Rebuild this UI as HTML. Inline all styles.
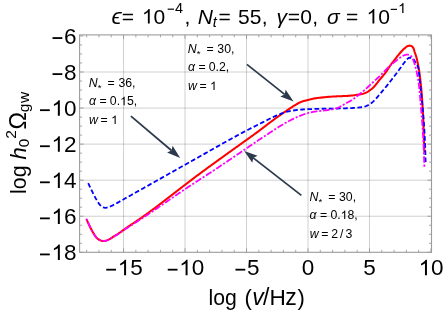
<!DOCTYPE html>
<html><head><meta charset="utf-8"><title>plot</title>
<style>
html,body{margin:0;padding:0;background:#fff;}
svg{display:block;font-family:"Liberation Sans",sans-serif;will-change:transform;}
text{fill:#000;}
.g{stroke:#666;stroke-opacity:0.5;stroke-width:0.62;}
.f{fill:none;stroke:#9b9b9b;stroke-width:1.1;}
.t{stroke:#8a8a8a;stroke-width:0.75;fill:none;}
.c{fill:none;stroke-linejoin:round;}
.red{stroke:#ff0000;stroke-width:2.05;}
.blue{stroke:#0000ff;stroke-width:1.8;stroke-dasharray:2.9 4.25;stroke-linecap:square;}
.mag{stroke:#ff00ff;stroke-width:1.8;stroke-dasharray:0.3 3.6 4.8 3.6;stroke-linecap:square;}
.al{stroke:#2c394d;stroke-width:1.75;}
.ah{fill:#2c394d;}
</style></head><body>
<svg width="444" height="311" viewBox="0 0 444 311">
<rect width="444" height="311" fill="#fff"/>
<line x1="123.55" y1="34.90" x2="123.55" y2="252.30" class="g"/>
<line x1="185.03" y1="34.90" x2="185.03" y2="252.30" class="g"/>
<line x1="246.52" y1="34.90" x2="246.52" y2="252.30" class="g"/>
<line x1="308.00" y1="34.90" x2="308.00" y2="252.30" class="g"/>
<line x1="369.49" y1="34.90" x2="369.49" y2="252.30" class="g"/>
<line x1="79.60" y1="72.00" x2="431.50" y2="72.00" class="g"/>
<line x1="79.60" y1="108.06" x2="431.50" y2="108.06" class="g"/>
<line x1="79.60" y1="144.12" x2="431.50" y2="144.12" class="g"/>
<line x1="79.60" y1="180.18" x2="431.50" y2="180.18" class="g"/>
<line x1="79.60" y1="216.24" x2="431.50" y2="216.24" class="g"/>
<path d="M86.60 219.50 L87.02 220.43 L87.45 221.37 L87.87 222.30 L88.30 223.23 L88.74 224.16 L89.17 225.09 L89.62 226.01 L90.07 226.93 L90.52 227.84 L90.99 228.76 L91.46 229.66 L91.94 230.56 L92.43 231.46 L92.94 232.36 L93.45 233.25 L93.98 234.13 L94.53 235.01 L95.10 235.87 L95.70 236.71 L96.36 237.50 L97.07 238.24 L97.85 238.91 L98.70 239.50 L99.61 240.01 L100.57 240.42 L101.57 240.71 L102.59 240.89 L103.61 240.93 L104.64 240.85 L105.66 240.67 L106.66 240.39 L107.63 240.03 L108.57 239.60 L109.48 239.13 L110.37 238.62 L111.25 238.08 L112.11 237.54 L112.98 236.99 L113.85 236.45 L114.73 235.91 L115.60 235.38 L116.47 234.84 L117.34 234.30 L118.20 233.74 L119.05 233.17 L119.89 232.58 L120.73 231.99 L121.56 231.40 L122.39 230.80 L123.22 230.20 L124.06 229.60 L124.90 229.01 L125.74 228.42 L126.58 227.84 L127.42 227.26 L128.27 226.68 L129.11 226.10 L129.96 225.53 L130.81 224.95 L131.66 224.38 L132.51 223.81 L133.36 223.24 L134.21 222.67 L135.06 222.09 L135.91 221.52 L136.76 220.95 L137.61 220.37 L138.46 219.80 L139.30 219.22 L140.15 218.64 L140.99 218.05 L141.83 217.47 L142.67 216.88 L143.51 216.29 L144.34 215.70 L145.18 215.10 L146.01 214.51 L146.84 213.91 L147.67 213.31 L148.50 212.71 L149.33 212.11 L150.15 211.50 L150.98 210.89 L151.80 210.28 L152.63 209.67 L153.45 209.06 L154.27 208.45 L155.09 207.84 L155.91 207.22 L156.73 206.60 L157.54 205.99 L158.36 205.37 L159.18 204.75 L159.99 204.13 L160.81 203.50 L161.62 202.88 L162.43 202.26 L163.25 201.63 L164.06 201.01 L164.87 200.38 L165.68 199.76 L166.49 199.13 L167.31 198.50 L168.12 197.87 L168.93 197.24 L169.74 196.62 L170.55 195.99 L171.36 195.36 L172.17 194.73 L172.98 194.10 L173.78 193.47 L174.59 192.84 L175.40 192.21 L176.21 191.58 L177.02 190.95 L177.83 190.33 L178.64 189.70 L179.45 189.07 L180.27 188.44 L181.08 187.82 L181.89 187.19 L182.70 186.56 L183.51 185.94 L184.33 185.32 L185.14 184.69 L185.96 184.07 L186.77 183.45 L187.59 182.83 L188.40 182.21 L189.22 181.59 L190.04 180.97 L190.85 180.35 L191.67 179.73 L192.49 179.12 L193.31 178.50 L194.13 177.89 L194.95 177.27 L195.77 176.66 L196.59 176.05 L197.42 175.43 L198.24 174.82 L199.06 174.21 L199.88 173.60 L200.71 172.99 L201.53 172.38 L202.36 171.77 L203.18 171.17 L204.01 170.56 L204.83 169.95 L205.66 169.35 L206.48 168.74 L207.31 168.13 L208.14 167.53 L208.97 166.92 L209.79 166.32 L210.62 165.72 L211.45 165.11 L212.28 164.51 L213.11 163.91 L213.94 163.31 L214.77 162.71 L215.60 162.10 L216.43 161.50 L217.26 160.90 L218.09 160.30 L218.92 159.70 L219.75 159.10 L220.58 158.50 L221.41 157.91 L222.24 157.31 L223.08 156.71 L223.91 156.11 L224.74 155.51 L225.57 154.91 L226.40 154.32 L227.24 153.72 L228.07 153.12 L228.90 152.53 L229.74 151.93 L230.57 151.33 L231.40 150.73 L232.23 150.14 L233.07 149.54 L233.90 148.95 L234.73 148.35 L235.57 147.75 L236.40 147.16 L237.23 146.56 L238.07 145.96 L238.90 145.37 L239.74 144.77 L240.57 144.18 L241.40 143.58 L242.24 142.98 L243.07 142.39 L243.90 141.79 L244.74 141.19 L245.57 140.60 L246.40 140.00 L247.23 139.40 L248.07 138.80 L248.90 138.21 L249.73 137.61 L250.56 137.01 L251.40 136.41 L252.23 135.81 L253.06 135.21 L253.89 134.61 L254.72 134.01 L255.54 133.41 L256.37 132.80 L257.20 132.20 L258.02 131.59 L258.85 130.98 L259.67 130.37 L260.49 129.76 L261.32 129.15 L262.14 128.53 L262.95 127.91 L263.77 127.29 L264.59 126.67 L265.40 126.05 L266.21 125.43 L267.03 124.80 L267.84 124.18 L268.65 123.56 L269.47 122.93 L270.28 122.31 L271.09 121.69 L271.91 121.07 L272.73 120.45 L273.55 119.84 L274.37 119.22 L275.19 118.61 L276.02 118.01 L276.85 117.41 L277.68 116.81 L278.52 116.22 L279.36 115.63 L280.20 115.04 L281.04 114.46 L281.89 113.88 L282.74 113.30 L283.58 112.73 L284.43 112.15 L285.28 111.58 L286.13 111.01 L286.97 110.43 L287.82 109.86 L288.67 109.29 L289.52 108.72 L290.38 108.16 L291.23 107.59 L292.09 107.03 L292.95 106.46 L293.81 105.90 L294.68 105.35 L295.56 104.80 L296.44 104.27 L297.33 103.75 L298.23 103.26 L299.14 102.79 L300.06 102.36 L301.00 101.96 L301.96 101.59 L302.93 101.27 L303.91 100.98 L304.90 100.70 L305.89 100.45 L306.89 100.20 L307.89 99.95 L308.88 99.70 L309.88 99.45 L310.87 99.20 L311.87 98.96 L312.87 98.75 L313.87 98.55 L314.88 98.38 L315.90 98.23 L316.91 98.10 L317.93 97.97 L318.95 97.85 L319.97 97.73 L320.99 97.61 L322.01 97.49 L323.03 97.38 L324.05 97.27 L325.07 97.17 L326.08 97.07 L327.11 96.98 L328.13 96.89 L329.15 96.80 L330.17 96.72 L331.19 96.65 L332.21 96.59 L333.23 96.53 L334.26 96.47 L335.28 96.43 L336.30 96.38 L337.33 96.34 L338.35 96.30 L339.37 96.26 L340.40 96.22 L341.42 96.18 L342.45 96.14 L343.47 96.10 L344.50 96.05 L345.52 96.00 L346.54 95.94 L347.57 95.88 L348.59 95.81 L349.61 95.73 L350.63 95.64 L351.65 95.54 L352.67 95.42 L353.68 95.30 L354.70 95.17 L355.71 95.02 L356.73 94.87 L357.74 94.72 L358.76 94.56 L359.77 94.39 L360.79 94.21 L361.79 94.01 L362.79 93.76 L363.77 93.48 L364.73 93.14 L365.68 92.74 L366.60 92.30 L367.51 91.81 L368.39 91.29 L369.26 90.73 L370.11 90.14 L370.94 89.53 L371.75 88.89 L372.53 88.22 L373.28 87.53 L374.00 86.80 L374.69 86.05 L375.35 85.27 L375.99 84.47 L376.62 83.66 L377.24 82.84 L377.86 82.02 L378.48 81.21 L379.12 80.40 L379.77 79.61 L380.43 78.82 L381.10 78.04 L381.77 77.26 L382.44 76.49 L383.10 75.71 L383.76 74.92 L384.40 74.13 L385.03 73.32 L385.64 72.50 L386.24 71.67 L386.81 70.82 L387.38 69.96 L387.93 69.10 L388.49 68.24 L389.05 67.38 L389.61 66.52 L390.19 65.68 L390.78 64.84 L391.38 64.01 L391.99 63.19 L392.61 62.38 L393.24 61.57 L393.87 60.76 L394.51 59.96 L395.15 59.15 L395.78 58.34 L396.41 57.53 L397.04 56.72 L397.68 55.90 L398.32 55.10 L398.96 54.30 L399.61 53.51 L400.26 52.73 L400.93 51.97 L401.61 51.22 L402.31 50.49 L403.02 49.77 L403.76 49.06 L404.53 48.37 L405.33 47.70 L406.17 47.03 L407.05 46.42 L407.97 45.94 L408.94 45.65 L409.96 45.62 L410.98 45.88 L411.92 46.37 L412.69 47.05 L413.26 47.87 L413.69 48.80 L414.02 49.80 L414.31 50.83 L414.60 51.84 L414.94 52.82 L415.28 53.78 L415.63 54.74 L415.96 55.70 L416.26 56.67 L416.54 57.66 L416.79 58.65 L417.02 59.66 L417.25 60.66 L417.46 61.66 L417.67 62.67 L417.88 63.67 L418.07 64.68 L418.26 65.69 L418.44 66.69 L418.62 67.70 L418.79 68.71 L418.96 69.72 L419.12 70.73 L419.27 71.75 L419.42 72.76 L419.56 73.77 L419.70 74.79 L419.84 75.80 L419.97 76.82 L420.10 77.84 L420.22 78.85 L420.34 79.87 L420.46 80.89 L420.57 81.91 L420.68 82.93 L420.79 83.95 L420.90 84.97 L421.00 85.99 L421.10 87.01 L421.20 88.03 L421.29 89.05 L421.39 90.07 L421.48 91.09 L421.57 92.11 L421.65 93.13 L421.74 94.15 L421.82 95.18 L421.90 96.20 L421.98 97.22 L422.05 98.24 L422.13 99.26 L422.20 100.28 L422.27 101.31 L422.33 102.33 L422.40 103.35 L422.46 104.37 L422.52 105.40 L422.58 106.42 L422.64 107.44 L422.70 108.47 L422.75 109.49 L422.80 110.51 L422.85 111.54 L422.90 112.56 L422.95 113.58 L423.00 114.61 L423.05 115.63 L423.09 116.65 L423.14 117.68 L423.18 118.70 L423.22 119.73 L423.26 120.75 L423.30 121.78 L423.34 122.80 L423.38 123.82 L423.42 124.85 L423.46 125.87 L423.50 126.90 L423.54 127.92 L423.57 128.94 L423.61 129.97 L423.64 130.99 L423.68 132.02 L423.72 133.04 L423.75 134.07 L423.79 135.09 L423.82 136.11 L423.86 137.14 L423.90 138.16 L423.93 139.19 L423.97 140.21 L424.00 141.24 L424.04 142.26 L424.08 143.28 L424.11 144.31 L424.15 145.33 L424.18 146.36 L424.22 147.38 L424.26 148.40 L424.29 149.43 L424.33 150.45 L424.36 151.48 L424.40 152.50" class="c red"/>
<path d="M88.60 184.01 L89.02 184.90 L89.44 185.78 L89.86 186.66 L90.28 187.55 L90.71 188.43 L91.13 189.32 L91.56 190.20 L91.99 191.08 L92.42 191.96 L92.85 192.84 L93.29 193.72 L93.73 194.59 L94.17 195.46 L94.62 196.34 L95.08 197.20 L95.54 198.07 L96.01 198.92 L96.50 199.78 L96.99 200.62 L97.50 201.46 L98.03 202.28 L98.58 203.10 L99.16 203.89 L99.77 204.66 L100.43 205.39 L101.14 206.07 L101.92 206.67 L102.77 207.18 L103.68 207.54 L104.64 207.74 L105.63 207.78 L106.61 207.68 L107.57 207.47 L108.51 207.18 L109.42 206.84 L110.33 206.46 L111.22 206.05 L112.10 205.63 L112.98 205.18 L113.84 204.73 L114.71 204.27 L115.57 203.81 L116.44 203.34 L117.29 202.87 L118.15 202.40 L119.01 201.92 L119.86 201.44 L120.72 200.96 L121.57 200.48 L122.43 200.00 L123.28 199.52 L124.13 199.04 L124.99 198.56 L125.84 198.08 L126.70 197.60 L127.55 197.12 L128.40 196.64 L129.26 196.16 L130.11 195.68 L130.97 195.20 L131.82 194.72 L132.67 194.24 L133.53 193.76 L134.38 193.28 L135.24 192.80 L136.09 192.32 L136.94 191.83 L137.80 191.35 L138.65 190.87 L139.51 190.39 L140.36 189.91 L141.21 189.43 L142.07 188.95 L142.92 188.47 L143.77 187.99 L144.63 187.50 L145.48 187.02 L146.33 186.54 L147.19 186.06 L148.04 185.58 L148.90 185.10 L149.75 184.62 L150.60 184.14 L151.46 183.66 L152.31 183.18 L153.17 182.70 L154.02 182.22 L154.87 181.74 L155.73 181.26 L156.58 180.78 L157.43 180.29 L158.29 179.81 L159.14 179.33 L159.99 178.85 L160.85 178.37 L161.70 177.89 L162.56 177.41 L163.41 176.93 L164.26 176.45 L165.12 175.97 L165.97 175.49 L166.83 175.01 L167.68 174.53 L168.53 174.05 L169.39 173.56 L170.24 173.08 L171.10 172.60 L171.95 172.12 L172.80 171.64 L173.66 171.16 L174.51 170.68 L175.36 170.20 L176.22 169.72 L177.07 169.23 L177.92 168.75 L178.78 168.27 L179.63 167.79 L180.49 167.31 L181.34 166.83 L182.19 166.35 L183.05 165.87 L183.90 165.39 L184.76 164.91 L185.61 164.43 L186.46 163.95 L187.32 163.47 L188.17 162.99 L189.02 162.51 L189.88 162.02 L190.73 161.54 L191.58 161.06 L192.44 160.58 L193.29 160.10 L194.15 159.62 L195.00 159.14 L195.85 158.66 L196.71 158.18 L197.56 157.70 L198.42 157.22 L199.27 156.74 L200.12 156.26 L200.98 155.78 L201.83 155.29 L202.69 154.81 L203.54 154.33 L204.39 153.85 L205.25 153.37 L206.10 152.89 L206.95 152.41 L207.81 151.93 L208.66 151.45 L209.51 150.96 L210.37 150.48 L211.22 150.00 L212.07 149.52 L212.93 149.04 L213.78 148.56 L214.63 148.08 L215.49 147.60 L216.34 147.11 L217.20 146.63 L218.05 146.15 L218.90 145.67 L219.76 145.19 L220.61 144.71 L221.46 144.23 L222.32 143.75 L223.17 143.26 L224.03 142.78 L224.88 142.30 L225.73 141.82 L226.59 141.34 L227.44 140.87 L228.30 140.39 L229.15 139.91 L230.01 139.43 L230.87 138.96 L231.72 138.48 L232.58 138.01 L233.44 137.53 L234.30 137.06 L235.16 136.59 L236.02 136.12 L236.88 135.65 L237.74 135.18 L238.60 134.71 L239.46 134.25 L240.32 133.78 L241.19 133.32 L242.05 132.86 L242.92 132.40 L243.78 131.94 L244.65 131.49 L245.52 131.03 L246.39 130.58 L247.26 130.13 L248.13 129.68 L249.00 129.23 L249.87 128.79 L250.74 128.34 L251.62 127.90 L252.49 127.46 L253.37 127.01 L254.24 126.57 L255.12 126.13 L255.99 125.69 L256.87 125.25 L257.74 124.81 L258.62 124.37 L259.49 123.93 L260.37 123.49 L261.24 123.05 L262.12 122.60 L262.99 122.16 L263.86 121.71 L264.74 121.27 L265.61 120.82 L266.48 120.37 L267.36 119.93 L268.23 119.48 L269.10 119.04 L269.98 118.60 L270.86 118.17 L271.74 117.74 L272.62 117.31 L273.50 116.89 L274.39 116.47 L275.28 116.06 L276.18 115.66 L277.07 115.27 L277.98 114.88 L278.88 114.51 L279.79 114.14 L280.71 113.79 L281.63 113.45 L282.55 113.12 L283.48 112.81 L284.41 112.51 L285.35 112.23 L286.29 111.96 L287.24 111.71 L288.19 111.48 L289.15 111.26 L290.11 111.06 L291.07 110.87 L292.04 110.69 L293.00 110.53 L293.97 110.38 L294.94 110.25 L295.92 110.12 L296.89 110.01 L297.86 109.91 L298.84 109.81 L299.82 109.73 L300.79 109.65 L301.77 109.57 L302.75 109.50 L303.73 109.44 L304.70 109.38 L305.68 109.32 L306.66 109.27 L307.64 109.22 L308.62 109.18 L309.60 109.13 L310.58 109.09 L311.55 109.05 L312.53 109.02 L313.51 108.98 L314.49 108.95 L315.47 108.92 L316.45 108.89 L317.43 108.87 L318.41 108.84 L319.39 108.82 L320.37 108.80 L321.35 108.78 L322.33 108.76 L323.31 108.74 L324.29 108.72 L325.27 108.71 L326.25 108.69 L327.23 108.67 L328.21 108.66 L329.19 108.64 L330.17 108.63 L331.15 108.61 L332.13 108.60 L333.11 108.58 L334.09 108.57 L335.07 108.55 L336.05 108.53 L337.03 108.51 L338.01 108.50 L338.99 108.47 L339.97 108.45 L340.95 108.43 L341.93 108.41 L342.91 108.38 L343.88 108.35 L344.86 108.32 L345.84 108.29 L346.82 108.25 L347.80 108.22 L348.77 108.18 L349.75 108.13 L350.73 108.09 L351.71 108.03 L352.68 107.98 L353.66 107.92 L354.64 107.85 L355.62 107.78 L356.60 107.71 L357.58 107.63 L358.56 107.54 L359.54 107.45 L360.52 107.34 L361.49 107.22 L362.46 107.07 L363.42 106.88 L364.37 106.65 L365.31 106.37 L366.23 106.03 L367.13 105.65 L368.02 105.21 L368.88 104.74 L369.72 104.22 L370.54 103.68 L371.33 103.10 L372.10 102.49 L372.85 101.86 L373.58 101.20 L374.28 100.52 L374.97 99.82 L375.63 99.10 L376.29 98.37 L376.93 97.63 L377.56 96.88 L378.19 96.13 L378.82 95.38 L379.45 94.62 L380.08 93.87 L380.71 93.12 L381.34 92.37 L381.98 91.62 L382.61 90.87 L383.24 90.12 L383.87 89.37 L384.49 88.62 L385.12 87.87 L385.74 87.11 L386.35 86.35 L386.97 85.59 L387.58 84.83 L388.19 84.07 L388.80 83.30 L389.40 82.53 L390.01 81.76 L390.61 80.98 L391.21 80.21 L391.81 79.43 L392.42 78.65 L393.02 77.87 L393.62 77.08 L394.22 76.30 L394.82 75.51 L395.41 74.72 L396.01 73.94 L396.60 73.15 L397.18 72.37 L397.76 71.59 L398.33 70.81 L398.90 70.04 L399.46 69.26 L400.02 68.50 L400.57 67.73 L401.13 66.96 L401.69 66.19 L402.25 65.41 L402.83 64.63 L403.41 63.83 L404.01 63.03 L404.63 62.22 L405.28 61.39 L405.94 60.54 L406.64 59.72 L407.37 58.97 L408.15 58.35 L408.99 57.91 L409.89 57.70 L410.84 57.77 L411.80 58.08 L412.70 58.59 L413.46 59.24 L414.07 60.00 L414.59 60.83 L415.06 61.70 L415.54 62.57 L416.06 63.41 L416.60 64.24 L417.12 65.07 L417.59 65.92 L417.98 66.80 L418.28 67.72 L418.51 68.66 L418.68 69.63 L418.81 70.62 L418.92 71.61 L419.01 72.61 L419.10 73.61 L419.20 74.60 L419.29 75.59 L419.39 76.58 L419.48 77.57 L419.58 78.55 L419.68 79.53 L419.78 80.51 L419.88 81.49 L419.99 82.46 L420.09 83.44 L420.19 84.41 L420.30 85.38 L420.40 86.35 L420.51 87.32 L420.61 88.29 L420.72 89.26 L420.82 90.23 L420.93 91.19 L421.03 92.16 L421.13 93.12 L421.24 94.09 L421.34 95.06 L421.45 96.02 L421.55 96.99 L421.65 97.96 L421.75 98.92 L421.85 99.89 L421.95 100.86 L422.05 101.83 L422.15 102.80 L422.24 103.77 L422.34 104.74 L422.43 105.72 L422.53 106.69 L422.62 107.66 L422.71 108.64 L422.80 109.61 L422.89 110.59 L422.98 111.56 L423.06 112.54 L423.15 113.52 L423.23 114.49 L423.32 115.47 L423.40 116.45 L423.48 117.43 L423.56 118.40 L423.63 119.38 L423.71 120.36 L423.78 121.34 L423.86 122.32 L423.93 123.30 L424.00 124.28 L424.06 125.26 L424.13 126.24 L424.20 127.22 L424.26 128.20 L424.32 129.18 L424.38 130.16 L424.44 131.14 L424.50 132.12 L424.55 133.10 L424.60 134.08 L424.66 135.06 L424.71 136.04 L424.75 137.02 L424.80 138.00 L424.84 138.98 L424.89 139.96 L424.93 140.94 L424.97 141.92 L425.01 142.90 L425.05 143.88 L425.09 144.86 L425.12 145.84 L425.16 146.82 L425.19 147.80 L425.22 148.77 L425.26 149.75 L425.29 150.73 L425.32 151.71 L425.35 152.69 L425.38 153.67 L425.41 154.65 L425.43 155.63 L425.46 156.61 L425.49 157.58 L425.52 158.56 L425.55 159.54 L425.57 160.52 L425.60 161.50" class="c blue"/>
<path d="M86.60 219.50 L87.02 220.42 L87.44 221.35 L87.86 222.27 L88.29 223.19 L88.71 224.11 L89.15 225.03 L89.58 225.94 L90.03 226.85 L90.48 227.76 L90.94 228.66 L91.40 229.55 L91.88 230.45 L92.36 231.34 L92.86 232.22 L93.37 233.10 L93.89 233.98 L94.42 234.86 L94.98 235.71 L95.58 236.54 L96.21 237.34 L96.90 238.08 L97.66 238.76 L98.48 239.36 L99.37 239.88 L100.31 240.31 L101.29 240.64 L102.29 240.85 L103.31 240.94 L104.33 240.91 L105.34 240.78 L106.34 240.55 L107.32 240.24 L108.27 239.86 L109.18 239.43 L110.07 238.95 L110.95 238.43 L111.82 237.90 L112.68 237.37 L113.55 236.85 L114.42 236.33 L115.30 235.82 L116.17 235.30 L117.04 234.78 L117.90 234.24 L118.75 233.69 L119.59 233.13 L120.42 232.55 L121.26 231.97 L122.09 231.39 L122.92 230.81 L123.75 230.23 L124.58 229.65 L125.42 229.08 L126.26 228.52 L127.11 227.95 L127.95 227.40 L128.80 226.84 L129.65 226.29 L130.51 225.74 L131.36 225.19 L132.21 224.64 L133.07 224.10 L133.92 223.56 L134.78 223.01 L135.63 222.47 L136.49 221.93 L137.35 221.38 L138.20 220.84 L139.05 220.29 L139.91 219.74 L140.76 219.19 L141.61 218.64 L142.46 218.09 L143.31 217.53 L144.16 216.98 L145.00 216.42 L145.85 215.86 L146.69 215.30 L147.54 214.74 L148.38 214.18 L149.22 213.61 L150.06 213.05 L150.90 212.48 L151.74 211.91 L152.58 211.35 L153.42 210.78 L154.26 210.21 L155.10 209.64 L155.94 209.06 L156.77 208.49 L157.61 207.92 L158.45 207.35 L159.28 206.77 L160.12 206.20 L160.95 205.62 L161.79 205.05 L162.62 204.47 L163.46 203.90 L164.29 203.32 L165.13 202.75 L165.96 202.17 L166.80 201.59 L167.63 201.02 L168.47 200.44 L169.30 199.87 L170.13 199.29 L170.97 198.71 L171.80 198.14 L172.64 197.56 L173.48 196.99 L174.31 196.42 L175.15 195.84 L175.98 195.27 L176.82 194.70 L177.66 194.13 L178.50 193.55 L179.33 192.98 L180.17 192.42 L181.01 191.85 L181.85 191.28 L182.69 190.71 L183.53 190.15 L184.38 189.58 L185.22 189.02 L186.06 188.46 L186.91 187.90 L187.75 187.34 L188.60 186.78 L189.45 186.22 L190.29 185.66 L191.14 185.11 L191.99 184.55 L192.84 184.00 L193.69 183.45 L194.54 182.89 L195.39 182.34 L196.24 181.79 L197.09 181.24 L197.94 180.69 L198.79 180.14 L199.65 179.59 L200.50 179.04 L201.35 178.49 L202.20 177.94 L203.05 177.39 L203.90 176.84 L204.75 176.28 L205.60 175.73 L206.45 175.18 L207.30 174.63 L208.15 174.07 L209.00 173.52 L209.85 172.97 L210.70 172.41 L211.55 171.85 L212.39 171.30 L213.24 170.74 L214.09 170.18 L214.93 169.62 L215.78 169.06 L216.62 168.50 L217.47 167.94 L218.31 167.38 L219.16 166.82 L220.00 166.26 L220.84 165.70 L221.69 165.13 L222.53 164.57 L223.37 164.01 L224.21 163.44 L225.06 162.88 L225.90 162.31 L226.74 161.75 L227.58 161.18 L228.42 160.61 L229.26 160.05 L230.10 159.48 L230.94 158.91 L231.78 158.34 L232.62 157.78 L233.46 157.21 L234.30 156.64 L235.14 156.07 L235.98 155.50 L236.82 154.93 L237.65 154.36 L238.49 153.79 L239.33 153.22 L240.17 152.65 L241.01 152.08 L241.84 151.51 L242.68 150.93 L243.52 150.36 L244.36 149.79 L245.19 149.22 L246.03 148.65 L246.87 148.08 L247.71 147.50 L248.54 146.93 L249.38 146.36 L250.22 145.79 L251.05 145.22 L251.89 144.65 L252.73 144.07 L253.57 143.50 L254.41 142.93 L255.25 142.37 L256.08 141.80 L256.92 141.23 L257.77 140.66 L258.61 140.10 L259.45 139.53 L260.29 138.97 L261.13 138.41 L261.98 137.84 L262.82 137.28 L263.67 136.73 L264.52 136.17 L265.36 135.61 L266.21 135.06 L267.06 134.50 L267.91 133.95 L268.76 133.40 L269.61 132.85 L270.46 132.30 L271.32 131.75 L272.17 131.20 L273.02 130.65 L273.87 130.10 L274.73 129.56 L275.58 129.01 L276.44 128.46 L277.29 127.91 L278.14 127.37 L279.00 126.82 L279.85 126.28 L280.71 125.74 L281.57 125.20 L282.44 124.67 L283.31 124.15 L284.18 123.63 L285.06 123.13 L285.94 122.63 L286.83 122.14 L287.72 121.66 L288.61 121.18 L289.52 120.72 L290.42 120.26 L291.33 119.81 L292.24 119.36 L293.15 118.92 L294.07 118.49 L294.99 118.06 L295.91 117.64 L296.84 117.22 L297.76 116.81 L298.69 116.41 L299.63 116.02 L300.57 115.63 L301.51 115.26 L302.45 114.89 L303.40 114.53 L304.36 114.19 L305.32 113.85 L306.28 113.54 L307.25 113.24 L308.23 112.97 L309.21 112.71 L310.19 112.47 L311.18 112.26 L312.18 112.05 L313.17 111.87 L314.17 111.70 L315.18 111.54 L316.18 111.40 L317.19 111.26 L318.20 111.14 L319.21 111.02 L320.21 110.91 L321.22 110.80 L322.23 110.69 L323.24 110.59 L324.25 110.48 L325.25 110.37 L326.26 110.26 L327.26 110.13 L328.27 110.00 L329.27 109.86 L330.28 109.70 L331.28 109.53 L332.28 109.35 L333.28 109.14 L334.27 108.91 L335.26 108.65 L336.23 108.37 L337.19 108.04 L338.14 107.68 L339.06 107.28 L339.97 106.84 L340.86 106.36 L341.74 105.85 L342.61 105.33 L343.48 104.80 L344.35 104.28 L345.23 103.76 L346.11 103.26 L347.00 102.77 L347.90 102.29 L348.80 101.82 L349.69 101.34 L350.58 100.84 L351.45 100.33 L352.30 99.80 L353.14 99.23 L353.96 98.64 L354.77 98.03 L355.56 97.40 L356.35 96.76 L357.14 96.11 L357.92 95.47 L358.72 94.83 L359.51 94.20 L360.31 93.57 L361.11 92.94 L361.90 92.32 L362.69 91.68 L363.48 91.04 L364.25 90.39 L365.01 89.72 L365.76 89.04 L366.50 88.35 L367.24 87.65 L367.97 86.95 L368.71 86.25 L369.44 85.55 L370.18 84.85 L370.92 84.16 L371.67 83.47 L372.41 82.79 L373.16 82.10 L373.91 81.42 L374.66 80.73 L375.41 80.05 L376.15 79.37 L376.90 78.68 L377.64 77.99 L378.38 77.30 L379.12 76.60 L379.85 75.90 L380.57 75.19 L381.30 74.48 L382.02 73.77 L382.73 73.05 L383.44 72.33 L384.15 71.60 L384.86 70.87 L385.56 70.14 L386.26 69.40 L386.96 68.67 L387.67 67.94 L388.38 67.22 L389.11 66.51 L389.85 65.82 L390.61 65.16 L391.39 64.51 L392.18 63.87 L392.98 63.25 L393.78 62.63 L394.59 62.01 L395.39 61.39 L396.18 60.76 L396.97 60.12 L397.75 59.49 L398.55 58.86 L399.35 58.24 L400.16 57.63 L400.99 57.04 L401.85 56.47 L402.73 55.95 L403.65 55.49 L404.59 55.11 L405.58 54.84 L406.60 54.68 L407.65 54.67 L408.69 54.80 L409.67 55.11 L410.54 55.60 L411.27 56.26 L411.88 57.07 L412.39 57.98 L412.83 58.94 L413.22 59.92 L413.59 60.88 L413.93 61.83 L414.24 62.78 L414.54 63.74 L414.83 64.70 L415.11 65.67 L415.38 66.65 L415.63 67.63 L415.88 68.62 L416.12 69.61 L416.35 70.60 L416.58 71.59 L416.80 72.59 L417.01 73.58 L417.21 74.57 L417.41 75.57 L417.60 76.56 L417.79 77.56 L417.96 78.56 L418.13 79.56 L418.29 80.56 L418.45 81.56 L418.59 82.56 L418.73 83.56 L418.86 84.57 L418.98 85.57 L419.10 86.58 L419.22 87.58 L419.32 88.59 L419.43 89.60 L419.53 90.61 L419.62 91.62 L419.71 92.63 L419.80 93.64 L419.89 94.65 L419.98 95.66 L420.06 96.68 L420.15 97.69 L420.23 98.70 L420.32 99.71 L420.40 100.72 L420.49 101.73 L420.57 102.74 L420.66 103.75 L420.75 104.77 L420.83 105.78 L420.92 106.79 L421.00 107.80 L421.09 108.81 L421.17 109.82 L421.26 110.83 L421.34 111.84 L421.43 112.85 L421.51 113.86 L421.60 114.87 L421.68 115.88 L421.76 116.89 L421.84 117.90 L421.92 118.91 L422.00 119.92 L422.08 120.93 L422.16 121.94 L422.24 122.95 L422.31 123.96 L422.39 124.97 L422.46 125.99 L422.54 127.00 L422.61 128.01 L422.68 129.02 L422.75 130.03 L422.81 131.04 L422.88 132.05 L422.94 133.06 L423.00 134.07 L423.06 135.09 L423.12 136.10 L423.18 137.11 L423.24 138.12 L423.29 139.13 L423.34 140.14 L423.39 141.16 L423.44 142.17 L423.49 143.18 L423.54 144.19 L423.59 145.21 L423.63 146.22 L423.67 147.23 L423.72 148.25 L423.76 149.26 L423.80 150.27 L423.84 151.28 L423.88 152.30 L423.92 153.31 L423.95 154.32 L423.99 155.34 L424.03 156.35 L424.06 157.36 L424.10 158.38 L424.13 159.39 L424.17 160.40 L424.20 161.42 L424.24 162.43 L424.27 163.45 L424.30 164.46 L424.33 165.47 L424.37 166.49 L424.40 167.50" class="c mag"/>
<path d="M86.66 252.30v-2.50M86.66 34.90v2.50M98.96 252.30v-2.50M98.96 34.90v2.50M111.25 252.30v-2.50M111.25 34.90v2.50M123.55 252.30v-4.00M123.55 34.90v4.00M135.85 252.30v-2.50M135.85 34.90v2.50M148.14 252.30v-2.50M148.14 34.90v2.50M160.44 252.30v-2.50M160.44 34.90v2.50M172.74 252.30v-2.50M172.74 34.90v2.50M185.03 252.30v-4.00M185.03 34.90v4.00M197.33 252.30v-2.50M197.33 34.90v2.50M209.63 252.30v-2.50M209.63 34.90v2.50M221.93 252.30v-2.50M221.93 34.90v2.50M234.22 252.30v-2.50M234.22 34.90v2.50M246.52 252.30v-4.00M246.52 34.90v4.00M258.82 252.30v-2.50M258.82 34.90v2.50M271.11 252.30v-2.50M271.11 34.90v2.50M283.41 252.30v-2.50M283.41 34.90v2.50M295.71 252.30v-2.50M295.71 34.90v2.50M308.00 252.30v-4.00M308.00 34.90v4.00M320.30 252.30v-2.50M320.30 34.90v2.50M332.60 252.30v-2.50M332.60 34.90v2.50M344.90 252.30v-2.50M344.90 34.90v2.50M357.19 252.30v-2.50M357.19 34.90v2.50M369.49 252.30v-4.00M369.49 34.90v4.00M381.79 252.30v-2.50M381.79 34.90v2.50M394.08 252.30v-2.50M394.08 34.90v2.50M406.38 252.30v-2.50M406.38 34.90v2.50M418.68 252.30v-2.50M418.68 34.90v2.50M430.98 252.30v-4.00M430.98 34.90v4.00M79.60 252.30h4.00M431.50 252.30h-4.00M79.60 243.29h2.50M431.50 243.29h-2.50M79.60 234.27h2.50M431.50 234.27h-2.50M79.60 225.25h2.50M431.50 225.25h-2.50M79.60 216.24h4.00M431.50 216.24h-4.00M79.60 207.23h2.50M431.50 207.23h-2.50M79.60 198.21h2.50M431.50 198.21h-2.50M79.60 189.19h2.50M431.50 189.19h-2.50M79.60 180.18h4.00M431.50 180.18h-4.00M79.60 171.17h2.50M431.50 171.17h-2.50M79.60 162.15h2.50M431.50 162.15h-2.50M79.60 153.13h2.50M431.50 153.13h-2.50M79.60 144.12h4.00M431.50 144.12h-4.00M79.60 135.11h2.50M431.50 135.11h-2.50M79.60 126.09h2.50M431.50 126.09h-2.50M79.60 117.08h2.50M431.50 117.08h-2.50M79.60 108.06h4.00M431.50 108.06h-4.00M79.60 99.05h2.50M431.50 99.05h-2.50M79.60 90.03h2.50M431.50 90.03h-2.50M79.60 81.02h2.50M431.50 81.02h-2.50M79.60 72.00h4.00M431.50 72.00h-4.00M79.60 62.98h2.50M431.50 62.98h-2.50M79.60 53.97h2.50M431.50 53.97h-2.50M79.60 44.95h2.50M431.50 44.95h-2.50M79.60 35.94h4.00M431.50 35.94h-4.00" class="t"/>
<rect x="79.60" y="34.90" width="351.90" height="217.40" class="f"/>
<line x1="130.90" y1="116.20" x2="171.48" y2="150.52" class="al"/>
<path d="M180.20 157.90L167.04 152.40L171.48 150.52L172.59 145.83Z" class="ah"/>
<line x1="246.90" y1="64.40" x2="284.66" y2="94.39" class="al"/>
<path d="M293.60 101.50L280.28 96.41L284.66 94.39L285.63 89.67Z" class="ah"/>
<line x1="301.40" y1="195.40" x2="253.22" y2="157.91" class="al"/>
<path d="M244.20 150.90L257.57 155.86L253.22 157.91L252.29 162.64Z" class="ah"/>
<rect x="52.54" y="37.16" width="9.79" height="1.80"/>
<text transform="translate(63.99 43.69) scale(1 1.010)" font-size="22.5">6</text>
<rect x="52.54" y="73.22" width="9.79" height="1.80"/>
<text transform="translate(63.99 79.75) scale(1 1.010)" font-size="22.5">8</text>
<rect x="39.99" y="109.28" width="9.79" height="1.80"/>
<path transform="translate(51.45 115.81) scale(0.01099 -0.01055)" d="M763 0H583V1147Q518 1085 412.5 1023Q307 961 223 930V1104Q374 1175 487 1276Q600 1377 647 1472H763Z"/>
<text transform="translate(63.96 115.81) scale(1 1.010)" font-size="22.5">0</text>
<rect x="39.99" y="145.34" width="9.79" height="1.80"/>
<path transform="translate(51.45 151.87) scale(0.01099 -0.01055)" d="M763 0H583V1147Q518 1085 412.5 1023Q307 961 223 930V1104Q374 1175 487 1276Q600 1377 647 1472H763Z"/>
<text transform="translate(63.96 151.87) scale(1 1.010)" font-size="22.5">2</text>
<rect x="39.99" y="181.41" width="9.79" height="1.80"/>
<path transform="translate(51.45 187.93) scale(0.01099 -0.01055)" d="M763 0H583V1147Q518 1085 412.5 1023Q307 961 223 930V1104Q374 1175 487 1276Q600 1377 647 1472H763Z"/>
<text transform="translate(63.96 187.93) scale(1 1.010)" font-size="22.5">4</text>
<rect x="39.99" y="217.47" width="9.79" height="1.80"/>
<path transform="translate(51.45 223.99) scale(0.01099 -0.01055)" d="M763 0H583V1147Q518 1085 412.5 1023Q307 961 223 930V1104Q374 1175 487 1276Q600 1377 647 1472H763Z"/>
<text transform="translate(63.96 223.99) scale(1 1.010)" font-size="22.5">6</text>
<rect x="39.99" y="253.53" width="9.79" height="1.80"/>
<path transform="translate(51.45 260.05) scale(0.01099 -0.01055)" d="M763 0H583V1147Q518 1085 412.5 1023Q307 961 223 930V1104Q374 1175 487 1276Q600 1377 647 1472H763Z"/>
<text transform="translate(63.96 260.05) scale(1 1.010)" font-size="22.5">8</text>
<rect x="106.24" y="268.78" width="9.79" height="1.80"/>
<path transform="translate(117.69 275.30) scale(0.01099 -0.01055)" d="M763 0H583V1147Q518 1085 412.5 1023Q307 961 223 930V1104Q374 1175 487 1276Q600 1377 647 1472H763Z"/>
<text transform="translate(130.21 275.30) scale(1 1.010)" font-size="22.5">5</text>
<rect x="167.73" y="268.78" width="9.79" height="1.80"/>
<path transform="translate(179.18 275.30) scale(0.01099 -0.01055)" d="M763 0H583V1147Q518 1085 412.5 1023Q307 961 223 930V1104Q374 1175 487 1276Q600 1377 647 1472H763Z"/>
<text transform="translate(191.69 275.30) scale(1 1.010)" font-size="22.5">0</text>
<rect x="235.48" y="268.78" width="9.79" height="1.80"/>
<text transform="translate(246.93 275.30) scale(1 1.010)" font-size="22.5">5</text>
<text transform="translate(301.86 275.30) scale(1 1.010)" font-size="22.5">0</text>
<text transform="translate(363.35 275.30) scale(1 1.010)" font-size="22.5">5</text>
<path transform="translate(418.56 275.30) scale(0.01099 -0.01055)" d="M763 0H583V1147Q518 1085 412.5 1023Q307 961 223 930V1104Q374 1175 487 1276Q600 1377 647 1472H763Z"/>
<text transform="translate(431.07 275.30) scale(1 1.010)" font-size="22.5">0</text>
<text x="88.80" y="86.50" font-size="12.3" font-style="italic">N</text>
<text x="97.80" y="91.40" font-size="9.5">*</text>
<text x="107.60" y="86.50" font-size="12.3">=</text>
<text x="118.40" y="86.50" font-size="12.3">36,</text>
<text x="89.00" y="105.25" font-size="12.3" font-style="italic">α</text>
<text x="99.50" y="105.25" font-size="12.3">=</text>
<text x="109.80" y="105.25" font-size="12.3">0.</text>
<path transform="translate(120.06 105.25) scale(0.00601 -0.00577)" d="M763 0H583V1147Q518 1085 412.5 1023Q307 961 223 930V1104Q374 1175 487 1276Q600 1377 647 1472H763Z"/>
<text x="126.90" y="105.25" font-size="12.3">5,</text>
<text x="89.10" y="123.90" font-size="12.3" font-style="italic">w</text>
<text x="100.60" y="123.90" font-size="12.3">=</text>
<path transform="translate(111.10 123.90) scale(0.00601 -0.00577)" d="M763 0H583V1147Q518 1085 412.5 1023Q307 961 223 930V1104Q374 1175 487 1276Q600 1377 647 1472H763Z"/>
<text x="187.70" y="52.50" font-size="12.3" font-style="italic">N</text>
<text x="196.70" y="57.40" font-size="9.5">*</text>
<text x="206.50" y="52.50" font-size="12.3">=</text>
<text x="217.30" y="52.50" font-size="12.3">30,</text>
<text x="187.90" y="71.25" font-size="12.3" font-style="italic">α</text>
<text x="198.40" y="71.25" font-size="12.3">=</text>
<text x="208.70" y="71.25" font-size="12.3">0.2,</text>
<text x="188.00" y="89.90" font-size="12.3" font-style="italic">w</text>
<text x="199.50" y="89.90" font-size="12.3">=</text>
<path transform="translate(210.00 89.90) scale(0.00601 -0.00577)" d="M763 0H583V1147Q518 1085 412.5 1023Q307 961 223 930V1104Q374 1175 487 1276Q600 1377 647 1472H763Z"/>
<text x="309.40" y="200.50" font-size="12.3" font-style="italic">N</text>
<text x="318.40" y="205.40" font-size="9.5">*</text>
<text x="328.20" y="200.50" font-size="12.3">=</text>
<text x="339.00" y="200.50" font-size="12.3">30,</text>
<text x="309.60" y="219.10" font-size="12.3" font-style="italic">α</text>
<text x="320.10" y="219.10" font-size="12.3">=</text>
<text x="330.40" y="219.10" font-size="12.3">0.</text>
<path transform="translate(340.66 219.10) scale(0.00601 -0.00577)" d="M763 0H583V1147Q518 1085 412.5 1023Q307 961 223 930V1104Q374 1175 487 1276Q600 1377 647 1472H763Z"/>
<text x="347.50" y="219.10" font-size="12.3">8,</text>
<text x="309.70" y="237.70" font-size="12.3" font-style="italic">w</text>
<text x="321.20" y="237.70" font-size="12.3">=</text>
<text x="331.20" y="237.70" font-size="12.3">2</text>
<text x="340.10" y="237.70" font-size="12.3">/</text>
<text x="345.40" y="237.70" font-size="12.3">3</text>
<text x="111.60" y="23.60" font-size="23" font-style="italic">ϵ</text>
<text x="121.80" y="23.60" font-size="21">=</text>
<path transform="translate(141.90 23.60) scale(0.01025 -0.00984)" d="M763 0H583V1147Q518 1085 412.5 1023Q307 961 223 930V1104Q374 1175 487 1276Q600 1377 647 1472H763Z"/>
<text x="153.58" y="23.60" font-size="21">0</text>
<rect x="167.69" y="8.60" width="6.31" height="1.16"/>
<text x="175.07" y="12.80" font-size="14.5">4</text>
<text x="184.60" y="23.60" font-size="21">,</text>
<text x="197.80" y="23.60" font-size="21" font-style="italic">N</text>
<text x="212.70" y="27.40" font-size="14.5" font-style="italic">t</text>
<text x="218.50" y="23.60" font-size="21">=</text>
<text x="238.00" y="23.60" font-size="21">55</text>
<text x="261.80" y="23.60" font-size="21">,</text>
<text x="276.60" y="23.60" font-size="21" font-style="italic">γ</text>
<text x="287.70" y="23.60" font-size="21">=</text>
<text x="300.30" y="23.60" font-size="21">0</text>
<text x="312.30" y="23.60" font-size="21">,</text>
<text x="327.10" y="23.60" font-size="21" font-style="italic">σ</text>
<text x="346.00" y="23.60" font-size="21">=</text>
<path transform="translate(366.50 23.60) scale(0.01025 -0.00984)" d="M763 0H583V1147Q518 1085 412.5 1023Q307 961 223 930V1104Q374 1175 487 1276Q600 1377 647 1472H763Z"/>
<text x="378.18" y="23.60" font-size="21">0</text>
<rect x="390.69" y="8.79" width="6.31" height="1.16"/>
<path transform="translate(398.07 13.00) scale(0.00708 -0.00680)" d="M763 0H583V1147Q518 1085 412.5 1023Q307 961 223 930V1104Q374 1175 487 1276Q600 1377 647 1472H763Z"/>
<text x="208.50" y="305.00" font-size="21.2">log</text>
<text x="244.60" y="305.00" font-size="22">(</text>
<text x="252.20" y="305.00" font-size="23" font-style="italic">v</text>
<text x="262.90" y="305.00" font-size="23">/</text>
<text x="269.40" y="305.00" font-size="22.6">H</text>
<text x="285.30" y="305.00" font-size="23">z</text>
<text x="297.40" y="305.00" font-size="22">)</text>
<g transform="translate(0 194.60) rotate(-90)">
<text x="0.60" y="25.60" font-size="21.4">log</text>
<text x="35.20" y="25.60" font-size="22" font-style="italic">h</text>
<text x="47.40" y="29.40" font-size="15.5">0</text>
<text x="55.90" y="15.60" font-size="15.5">2</text>
<text x="65.00" y="25.60" font-size="23.5">Ω</text>
<text x="82.40" y="29.40" font-size="15.5">g</text>
<text x="91.64" y="29.40" font-size="15.5">w</text>
</g>
</svg>
</body></html>
